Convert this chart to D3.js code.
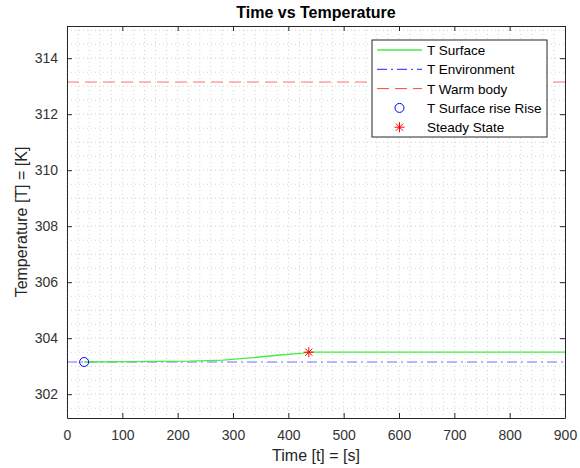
<!DOCTYPE html>
<html>
<head>
<meta charset="utf-8">
<script src="https://cdn.jsdelivr.net/npm/d3@7"></script>
<style>
  body { margin: 0; background: #fff; }
  text { font-family: "Liberation Sans", Arial, Helvetica, sans-serif; }
</style>
</head>
<body>
<svg id="chart"></svg>
<script>
// data
const surfaceTime = [31, 120, 222, 282, 343, 385, 426, 437, 900];
const surfaceTemp = [303.15, 303.16, 303.18, 303.22, 303.32, 303.40, 303.47, 303.50, 303.50];
const envTemp = 303.15;
const warmTemp = 313.15;
const riseTime = [31];
const riseTemp = [303.15];
const steadyTime = [437];
const steadyTemp = [303.5];

const xTicks = [0, 100, 200, 300, 400, 500, 600, 700, 800, 900];
const yTicks = [302, 304, 306, 308, 310, 312, 314];
const legendLabels = ['T Surface', 'T Environment', 'T Warm body', 'T Surface rise Rise', 'Steady State'];

const surface = surfaceTime.map((t, i) => ({t: t, v: surfaceTemp[i]}));

/* Set the dimensions for the graph. */
const W = 580, H = 468;
const margin = {top: 26, right: 15, bottom: 50, left: 67};
const width = W - margin.left - margin.right;
const height = H - margin.top - margin.bottom;

const svg = d3.select('#chart')
    .attr('width', W)
    .attr('height', H);

const g = svg.append('g')
    .attr('transform', 'translate(' + margin.left + ',' + margin.top + ')');

const x = d3.scaleLinear().domain([0, 900]).range([0, width]);
const y = d3.scaleLinear().domain([envTemp - 2, warmTemp + 2]).range([height, 0]);

/* dotted grid (major + minor) */
const xGrid = d3.range(0, 901, 20);
const yGrid = d3.range(301.5, 315.1, 0.5);
g.append('g').selectAll('line')
    .data(xGrid)
    .enter().append('line')
    .attr('x1', d => x(d)).attr('x2', d => x(d))
    .attr('y1', 0).attr('y2', height)
    .attr('stroke', '#d2d2d2')
    .attr('stroke-width', 1)
    .attr('stroke-dasharray', '1,3');
g.append('g').selectAll('line')
    .data(yGrid)
    .enter().append('line')
    .attr('x1', 0).attr('x2', width)
    .attr('y1', d => y(d)).attr('y2', d => y(d))
    .attr('stroke', '#d2d2d2')
    .attr('stroke-width', 1)
    .attr('stroke-dasharray', '1,3');

/* reference lines */
g.append('line')
    .attr('x1', x(0)).attr('x2', x(900))
    .attr('y1', y(warmTemp)).attr('y2', y(warmTemp))
    .attr('stroke', '#ff7070')
    .attr('stroke-width', 1)
    .attr('stroke-dasharray', '12,6');
g.append('line')
    .attr('x1', x(0)).attr('x2', x(900))
    .attr('y1', y(envTemp)).attr('y2', y(envTemp))
    .attr('stroke', '#6e6eff')
    .attr('stroke-width', 1)
    .attr('stroke-dasharray', '10,4,2,4');

/* surface temperature line */
const line = d3.line()
    .x(d => x(d.t))
    .y(d => y(d.v));
g.append('path')
    .datum(surface)
    .attr('fill', 'none')
    .attr('stroke', '#44ee44')
    .attr('stroke-width', 1.3)
    .attr('d', line);

/* markers */
g.selectAll('.rise')
    .data(riseTime)
    .enter().append('circle')
    .attr('cx', d => x(d))
    .attr('cy', (d, i) => y(riseTemp[i]))
    .attr('r', 4.5)
    .attr('fill', 'none')
    .attr('stroke', '#0000ff')
    .attr('stroke-width', 1);

// MATLAB style asterisk: 4 strokes through the centre
const starPath = 'M-5,0H5M0,-5V5M-3.6,-3.6L3.6,3.6M-3.6,3.6L3.6,-3.6';
g.selectAll('.steady')
    .data(steadyTime)
    .enter().append('path')
    .attr('transform', (d, i) => 'translate(' + x(d) + ',' + y(steadyTemp[i]) + ')')
    .attr('d', starPath)
    .attr('fill', 'none')
    .attr('stroke', '#ff0000')
    .attr('stroke-width', 1);

/* axes (MATLAB-like box with inward ticks) */
const axisColor = '#262626';
const xAxis = g.append('g')
    .attr('transform', 'translate(0,' + height + ')')
    .call(d3.axisBottom(x).tickValues(xTicks).tickSizeInner(-5).tickSizeOuter(0).tickPadding(12));
const xTop = g.append('g')
    .call(d3.axisTop(x).tickValues(xTicks).tickSizeInner(-5).tickSizeOuter(0).tickFormat(''));
const yAxis = g.append('g')
    .call(d3.axisLeft(y).tickValues(yTicks).tickSizeInner(-5).tickSizeOuter(0).tickPadding(9));
const yRight = g.append('g')
    .attr('transform', 'translate(' + width + ',0)')
    .call(d3.axisRight(y).tickValues(yTicks).tickSizeInner(-5).tickSizeOuter(0).tickFormat(''));

[xAxis, xTop, yAxis, yRight].forEach(a => {
    a.selectAll('path').attr('stroke', axisColor).attr('stroke-width', 1);
    a.selectAll('line').attr('stroke', axisColor);
    a.selectAll('text')
        .attr('fill', '#333')
        .style('font-size', '14px')
        .style('font-family', '"Liberation Sans", Arial, sans-serif');
});

/* title and labels */
svg.append('text')
    .attr('x', margin.left + width / 2)
    .attr('y', 18)
    .attr('text-anchor', 'middle')
    .attr('fill', '#000')
    .style('font-size', '16px')
    .style('font-weight', 'bold')
    .text('Time vs Temperature');

svg.append('text')
    .attr('x', margin.left + width / 2)
    .attr('y', 461)
    .attr('text-anchor', 'middle')
    .attr('fill', axisColor)
    .style('font-size', '16px')
    .text('Time [t] = [s]');

svg.append('text')
    .attr('transform', 'translate(27,' + (margin.top + height / 2) + ') rotate(-90)')
    .attr('text-anchor', 'middle')
    .attr('fill', axisColor)
    .style('font-size', '16px')
    .text('Temperature [T] = [K]');

/* legend */
const legend = svg.append('g')
    .attr('transform', 'translate(372,40)');
legend.append('rect')
    .attr('width', 175)
    .attr('height', 97)
    .attr('fill', '#fff')
    .attr('stroke', axisColor)
    .attr('stroke-width', 1);

const rows = legend.selectAll('.row')
    .data(legendLabels)
    .enter().append('g')
    .attr('transform', (d, i) => 'translate(0,' + (10 + i * 19.3) + ')');

rows.append('text')
    .attr('x', 55)
    .attr('y', 5)
    .attr('fill', '#000')
    .style('font-size', '13.5px')
    .text(d => d);

rows.filter((d, i) => i === 0).append('line')
    .attr('x1', 5).attr('x2', 50)
    .attr('stroke', '#44ee44').attr('stroke-width', 1.3);
rows.filter((d, i) => i === 1).append('line')
    .attr('x1', 5).attr('x2', 50)
    .attr('stroke', '#2222ff').attr('stroke-width', 1)
    .attr('stroke-dasharray', '10,4,2,4');
rows.filter((d, i) => i === 2).append('line')
    .attr('x1', 5).attr('x2', 50)
    .attr('stroke', '#ff4444').attr('stroke-width', 1)
    .attr('stroke-dasharray', '12,6');
rows.filter((d, i) => i === 3).append('circle')
    .attr('cx', 27.5).attr('r', 4.5)
    .attr('fill', 'none').attr('stroke', '#0000ff');
rows.filter((d, i) => i === 4).append('path')
    .attr('transform', 'translate(27.5,0)')
    .attr('d', starPath)
    .attr('fill', 'none').attr('stroke', '#ff0000');
</script>
</body>
</html>
